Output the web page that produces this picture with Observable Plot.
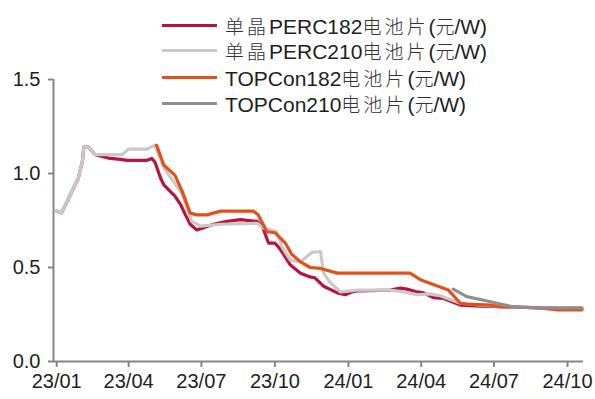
<!DOCTYPE html>
<html>
<head>
<meta charset="utf-8">
<script src="https://cdn.jsdelivr.net/npm/d3@7"></script>
<script src="https://cdn.jsdelivr.net/npm/@observablehq/plot@0.6"></script>
<style>
  html, body { margin: 0; padding: 0; background: #fff; }
  #wrap { position: relative; width: 595px; height: 399px; }
  #legend { position: absolute; left: 0; top: 0; font-family: "Liberation Sans", Arial, "Noto Sans CJK SC", sans-serif; font-size: 21px; color: #1e1e1e; }
  .row { position: absolute; left: 162px; height: 24px; display: flex; align-items: center; white-space: nowrap; }
  .sw { width: 55px; height: 3px; margin-right: 8px; }
  .cjk { font-family: "Noto Sans CJK SC", sans-serif; font-weight: 300; font-size: 19px; color: #333; }
  .cjk.sp { letter-spacing: 3px; }
</style>
</head>
<body>
<div id="wrap"><div id="legend"></div></div>
<script>
// ---- data (price, 元/W) ----
const seriesNames = ["单晶PERC182电池片(元/W)", "单晶PERC210电池片(元/W)", "TOPCon182电池片(元/W)", "TOPCon210电池片(元/W)"];
const seriesColors = ["#B8123F", "#C9C9C9", "#E2501B", "#8E8E8E"];

const perc182 = [
  ["2023-01-01",0.80],["2023-01-07",0.79],["2023-01-14",0.85],["2023-01-28",0.975],["2023-02-02",1.06],
  ["2023-02-04",1.14],["2023-02-10",1.14],["2023-02-18",1.10],["2023-02-28",1.09],["2023-03-09",1.08],
  ["2023-03-22",1.075],["2023-03-30",1.07],["2023-04-24",1.07],["2023-04-30",1.08],["2023-05-04",1.06],
  ["2023-05-11",0.975],["2023-05-15",0.94],["2023-05-23",0.905],["2023-05-29",0.88],["2023-06-05",0.835],
  ["2023-06-11",0.78],["2023-06-17",0.73],["2023-06-25",0.70],["2023-07-03",0.71],["2023-07-16",0.73],
  ["2023-08-02",0.745],["2023-08-19",0.755],["2023-09-09",0.745],["2023-09-16",0.71],["2023-09-23",0.63],
  ["2023-10-01",0.63],["2023-10-08",0.595],["2023-10-20",0.515],["2023-11-02",0.47],["2023-11-14",0.45],
  ["2023-11-20",0.445],["2023-12-01",0.40],["2023-12-18",0.365],["2023-12-28",0.355],["2024-01-05",0.37],
  ["2024-01-12",0.375],["2024-02-22",0.38],["2024-03-06",0.39],["2024-03-14",0.385],["2024-03-27",0.37],
  ["2024-04-04",0.365],["2024-04-16",0.34],["2024-04-29",0.335],["2024-05-11",0.315],["2024-05-20",0.30],
  ["2024-06-14",0.295],["2024-07-25",0.29],["2024-08-28",0.285],["2024-10-19",0.28]
];
const perc210 = [
  ["2023-01-01",0.80],["2023-01-07",0.79],["2023-01-14",0.85],["2023-01-28",0.975],["2023-02-02",1.06],
  ["2023-02-04",1.14],["2023-02-10",1.14],["2023-02-18",1.10],["2023-02-28",1.10],["2023-03-24",1.10],
  ["2023-04-01",1.13],["2023-04-24",1.13],["2023-05-04",1.15],["2023-05-15",1.03],["2023-06-07",0.89],
  ["2023-06-19",0.745],["2023-06-30",0.72],["2023-07-25",0.73],["2023-09-09",0.735],["2023-09-16",0.71],
  ["2023-09-26",0.70],["2023-10-03",0.69],["2023-10-11",0.60],["2023-10-20",0.54],["2023-11-02",0.53],
  ["2023-11-16",0.58],["2023-11-27",0.585],["2023-12-01",0.47],["2023-12-09",0.42],["2023-12-22",0.37],
  ["2024-01-12",0.38],["2024-02-22",0.38],["2024-03-10",0.37],["2024-03-27",0.355],["2024-04-12",0.36],
  ["2024-04-25",0.35],["2024-05-07",0.33],["2024-05-20",0.31],["2024-06-14",0.30],["2024-07-25",0.29],
  ["2024-10-19",0.285]
];
const topcon182 = [
  ["2023-05-06",1.15],["2023-05-15",1.045],["2023-05-29",0.99],["2023-06-07",0.905],["2023-06-17",0.79],
  ["2023-06-25",0.78],["2023-07-08",0.78],["2023-07-25",0.80],["2023-09-04",0.80],["2023-09-10",0.78],
  ["2023-09-21",0.69],["2023-10-01",0.685],["2023-10-14",0.63],["2023-10-22",0.57],["2023-11-02",0.53],
  ["2023-11-14",0.50],["2023-11-27",0.495],["2023-12-18",0.47],["2024-03-18",0.47],["2024-03-31",0.435],
  ["2024-04-16",0.41],["2024-05-05",0.38],["2024-05-20",0.31],["2024-05-28",0.305],["2024-06-27",0.30],
  ["2024-07-09",0.29],["2024-07-25",0.29],["2024-08-28",0.285],["2024-09-18",0.275],["2024-10-19",0.275]
];
const topcon210 = [
  ["2024-05-11",0.385],["2024-05-28",0.345],["2024-06-14",0.33],["2024-07-05",0.31],["2024-07-25",0.29],
  ["2024-08-28",0.285],["2024-10-19",0.285]
];
const yTicks = [0, 0.5, 1.0, 1.5];
const xTickStrings = ["2023-01-01","2023-04-01","2023-07-01","2023-10-01","2024-01-01","2024-04-01","2024-07-01","2024-10-01"];
const xDomainStrings = ["2022-12-28", "2024-10-21"];

// ---- build ----
const parse = d3.utcParse("%Y-%m-%d");
const allSeries = [perc182, perc210, topcon182, topcon210].map((arr, i) =>
  arr.map(([d, v]) => ({date: parse(d), value: v, series: seriesNames[i]})));
const xDomain = xDomainStrings.map(parse);
const xTicks = xTickStrings.map(parse);
const axisColor = "#858585";

const chart = Plot.plot({
  width: 595,
  height: 399,
  marginLeft: 53,
  marginRight: 12,
  marginTop: 79,
  marginBottom: 38,
  style: {fontFamily: "'Liberation Sans', Arial, sans-serif", fontSize: "20px", color: "#1e1e1e", background: "transparent"},
  x: {type: "utc", domain: xDomain},
  y: {domain: [0, 1.5]},
  marks: [
    Plot.axisY({ticks: yTicks, tickFormat: d3.format(".1f"), tickSize: 5, tickPadding: 8, stroke: axisColor, strokeWidth: 2, fill: "#1e1e1e", label: null}),
    Plot.axisX({ticks: xTicks, tickFormat: d3.utcFormat("%y/%m"), tickSize: 6, tickPadding: 6, stroke: axisColor, strokeWidth: 2, fill: "#1e1e1e", label: null}),
    Plot.ruleX([xDomain[0]], {stroke: axisColor, strokeWidth: 2}),
    Plot.ruleY([0], {stroke: axisColor, strokeWidth: 2}),
    ...allSeries.map((s, i) => Plot.lineY(s, {x: "date", y: "value", stroke: seriesColors[i], strokeWidth: 3.2, strokeLinejoin: "round", curve: "linear"}))
  ]
});
document.getElementById("wrap").prepend(chart);

// ---- legend ----
const legend = document.getElementById("legend");
const rowTops = [13, 38, 65, 91];
seriesNames.forEach((name, i) => {
  const row = document.createElement("div");
  row.className = "row";
  row.style.top = rowTops[i] + "px";
  const sw = document.createElement("span");
  sw.className = "sw";
  sw.style.background = seriesColors[i];
  row.appendChild(sw);
  const label = document.createElement("span");
  label.innerHTML = name.replace(/([\u4e00-\u9fff]+)/g, (m) =>
    `<span class="cjk${m.length > 1 ? " sp" : ""}">${m}</span>`);
  row.appendChild(label);
  legend.appendChild(row);
});
</script>
</body>
</html>
